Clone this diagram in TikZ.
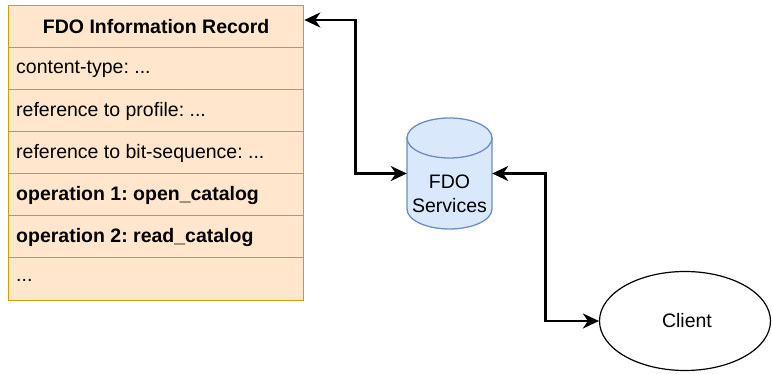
\documentclass[tikz,border=0pt]{standalone}
\usepackage{fontspec}
\setmainfont{Liberation Sans}
\frenchspacing
\usetikzlibrary{arrows.meta,calc,shapes.geometric}
\definecolor{recfill}{HTML}{FFE6CC}
\definecolor{recline}{HTML}{D79B00}
\definecolor{svcfill}{HTML}{DAE8FC}
\definecolor{svcline}{HTML}{6C8EBF}
\tikzset{
  lbl/.style={font=\fontsize{19.5}{24}\selectfont, inner sep=0pt},
  boldlbl/.style={font=\fontsize{19.5}{24}\selectfont\bfseries, inner sep=0pt},
  recrow/.style={draw=recline, fill=recfill, line width=1.3pt,
    minimum width=295pt, minimum height=42pt, inner sep=0pt, anchor=north west},
  rowtext/.style={anchor=west},
  conn/.style={line width=2.6pt, {Stealth[length=16pt,width=15pt,inset=5pt]}-{Stealth[length=16pt,width=15pt,inset=5pt]}},
  cylpart/.style={draw=svcline, fill=svcfill, line width=1.3pt},
}
\begin{document}
\begin{tikzpicture}[x=1pt,y=-1pt]
\useasboundingbox (0,0) rectangle (772,374);

% record table
\node[recrow] (hdr) at (8,5) {};
\node[recrow] (r1) at (8,47) {};
\node[recrow] (r2) at (8,89) {};
\node[recrow] (r3) at (8,131) {};
\node[recrow] (r4) at (8,173) {};
\node[recrow] (r5) at (8,215) {};
\node[recrow, minimum height=43pt] (r6) at (8,257) {};
\node[boldlbl] (hdrtxt) at (hdr.center) {FDO Information Record};
\node[lbl, rowtext] (t1) at ([xshift=8pt,yshift=-1pt]r1.west) {content-type: ...};
\node[lbl, rowtext] (t2) at ([xshift=8pt,yshift=-1pt]r2.west) {reference to profile: ...};
\node[lbl, rowtext] (t3) at ([xshift=8pt,yshift=-1pt]r3.west) {reference to bit-sequence: ...};
\node[boldlbl, rowtext] (t4) at ([xshift=8pt,yshift=-1pt]r4.west) {operation 1: open\_catalog};
\node[boldlbl, rowtext] (t5) at ([xshift=8pt,yshift=-1pt]r5.west) {operation 2: read\_catalog};
\node[lbl, rowtext] (t6) at ([xshift=8pt,yshift=-1pt]r6.west) {...};

% services cylinder
\node[minimum width=85pt, minimum height=111pt, inner sep=0pt] (svc) at (449.5,173.5) {};
\path[cylpart] (407,138) -- (407,209) arc[start angle=180, end angle=0, x radius=42.5, y radius=20] -- (492,138) -- cycle;
\path[cylpart] (449.5,138) ellipse[x radius=42.5, y radius=20];
\node[lbl, align=center] (svctxt) at (449.5,193.5) {FDO\\Services};

% client
\node[draw, line width=1.2pt, ellipse, minimum width=171pt, minimum height=99pt, inner sep=0pt] (cli) at (685,321) {};
\node[lbl] (clitxt) at ([xshift=2pt]cli.center) {Client};

% connectors
\coordinate (hin) at ($(hdr.north east)+(0,15)$);
\draw[conn] (hin) -| ($(hin)!0.5!(svc.west)$) |- (svc.west);
\draw[conn] (svc.east) -| ($(svc.east)!0.5!(cli.west)$) |- (cli.west);
\end{tikzpicture}
\end{document}
